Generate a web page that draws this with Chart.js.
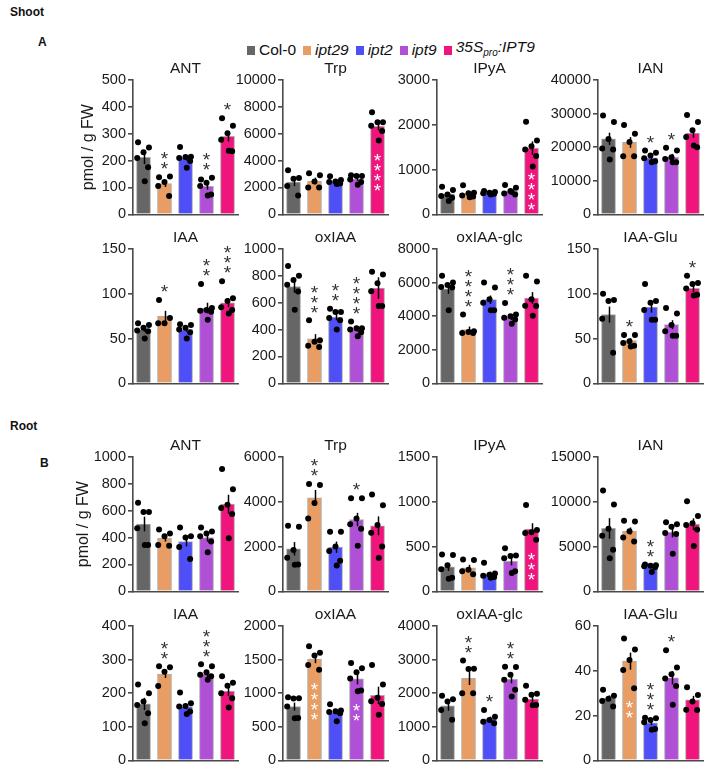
<!DOCTYPE html>
<html>
<head>
<meta charset="utf-8">
<script src="https://cdn.jsdelivr.net/npm/chart.js@4.4.0/dist/chart.umd.min.js"></script>
<style>
  body { margin: 0; width: 708px; height: 768px; background: #fff; position: relative; overflow: hidden;
         font-family: "Liberation Sans", Arial, sans-serif; color: #111; }
  canvas { position: absolute; }
  .lbl { position: absolute; font-weight: bold; font-size: 12px; line-height: 14px; }
  #legend { position: absolute; left: 247px; top: 38px; display: flex; align-items: center;
            font-size: 15.5px; line-height: 18px; white-space: nowrap; }
  #legend .sw { display: inline-block; width: 8px; height: 9px; margin-right: 4px; }
  #legend .it { margin-right: 7px; }
  #legend i sub { font-size: 10px; }
</style>
</head>
<body>
<div class="lbl" style="left:10px;top:5px">Shoot</div>
<div class="lbl" style="left:38px;top:35px">A</div>
<div class="lbl" style="left:10px;top:419px">Root</div>
<div class="lbl" style="left:40px;top:456px">B</div>
<div id="legend">
  <span class="sw" style="background:#666666"></span><span class="it">Col-0</span>
  <span class="sw" style="background:#E89D64"></span><span class="it"><i>ipt29</i></span>
  <span class="sw" style="background:#4F4FF7"></span><span class="it"><i>ipt2</i></span>
  <span class="sw" style="background:#B050D6"></span><span class="it"><i>ipt9</i></span>
  <span class="sw" style="background:#F0157C"></span><span class="it"><i>35S<sub>pro</sub>:IPT9</i></span>
</div>

<script>
const genotypes = ["Col-0", "ipt29", "ipt2", "ipt9", "35Spro:IPT9"];
const barColors = ["#666666", "#E89D64", "#4F4FF7", "#B050D6", "#F0157C"];

// stars: >0 dark asterisks above the bar, <0 white asterisks inside the bar

// ---- Shoot ----
const shootAntMean = [212, 114, 210, 104, 290];
const shootAntSem = [25, 12, 10, 12, 19];
const shootAntDots = [[268, 249, 231, 210, 175, 123], [138, 141, 120, 105, 68], [251, 214, 213, 210, 198, 173], [130, 136, 117, 105, 74, 70], [358, 330, 302, 278, 235, 237]];
const shootAntStars = [0, 2, 0, 2, 1];

const shootTrpMean = [2400, 2480, 2460, 2620, 6550];
const shootTrpSem = [300, 250, 100, 120, 300];
const shootTrpDots = [[3280, 2700, 2650, 2100, 1400], [3050, 2900, 2450, 2000, 2000], [2830, 2550, 2450, 2400, 2300, 2250], [2900, 2850, 2850, 2600, 2400, 2200], [7600, 6850, 6850, 6600, 6200, 5500]];
const shootTrpStars = [0, 0, 0, 0, -4];

const shootIpyaMean = [455, 462, 478, 520, 1480];
const shootIpyaSem = [40, 40, 15, 30, 150];
const shootIpyaDots = [[615, 541, 444, 407, 370, 296], [650, 480, 470, 420, 400, 380], [520, 500, 480, 470, 460, 440], [652, 593, 519, 467, 444, 496], [2070, 1650, 1520, 1450, 1300, 1070]];
const shootIpyaStars = [0, 0, 0, 0, -4];

const shootIanMean = [22500, 21400, 16800, 17000, 24200];
const shootIanSem = [1800, 1600, 600, 1000, 1400];
const shootIanDots = [[29400, 27500, 22400, 19600, 19300, 16300], [26600, 24000, 21500, 17300, 17300], [19000, 18300, 17500, 16700, 15800, 15500], [19800, 19000, 17000, 16500, 15500, 15500], [29600, 27500, 25000, 23000, 20000, 20500]];
const shootIanStars = [0, 0, 1, 1, 0];

const shootIaaMean = [60, 75, 60, 84, 90];
const shootIaaSem = [2.5, 6, 2.5, 6, 5];
const shootIaaDots = [[67, 65, 62, 59, 58, 50], [93, 73, 67, 67], [66, 65, 62, 60, 57, 50], [111, 84, 82, 81, 80, 71], [114, 95, 92, 85, 82, 78]];
const shootIaaStars = [0, 1, 0, 2, 3];

const shootOxiaaMean = [720, 331, 494, 400, 709];
const shootOxiaaSem = [45, 35, 25, 15, 80];
const shootOxiaaDots = [[874, 800, 770, 733, 684, 548], [469, 320, 310, 280, 270], [556, 531, 531, 486, 470, 400], [460, 410, 410, 400, 380, 350], [830, 810, 745, 685, 575, 575]];
const shootOxiaaStars = [0, 3, 2, 4, 0];

const shootOxglcMean = [5630, 3200, 4980, 3950, 5080];
const shootOxglcSem = [300, 180, 250, 180, 350];
const shootOxglcDots = [[6400, 6000, 5850, 5730, 5700, 4350], [4100, 3100, 3050, 3000, 3000], [6000, 5700, 5000, 4800, 4350, 4350], [4780, 4100, 4000, 3900, 3800, 3550], [6400, 6070, 5000, 4620, 4600, 4030]];
const shootOxglcStars = [0, 4, 0, 3, 0];

const shootGluMean = [76.7, 47.8, 85, 65.5, 106];
const shootGluSem = [9, 2.5, 6, 5, 4];
const shootGluDots = [[100, 93, 92, 72, 34], [54, 54, 47, 45, 42, 41], [111, 92, 90, 82, 71, 71], [84, 78, 65, 58, 53, 53], [120, 112, 111, 106, 99, 98]];
const shootGluStars = [0, 1, 0, 0, 1];

// ---- Root ----
const rootAntMean = [501, 395, 370, 400, 649];
const rootAntSem = [55, 25, 35, 30, 70];
const rootAntDots = [[660, 590, 590, 470, 345, 345], [460, 430, 410, 345, 340], [475, 410, 400, 330, 240], [475, 445, 430, 410, 370, 290], [910, 760, 645, 620, 575, 395]];
const rootAntStars = [0, 0, 0, 0, 0];

const rootTrpMean = [1900, 4176, 1970, 3206, 2926];
const rootTrpSem = [300, 350, 250, 300, 420];
const rootTrpDots = [[2930, 2880, 1850, 1500, 1200, 1190], [4790, 4750, 3940, 3250], [2660, 2660, 2000, 1800, 1370, 1150], [4160, 4160, 3250, 3000, 2800, 2030], [4320, 3840, 2960, 2620, 2000, 1490]];
const rootTrpStars = [0, 2, 0, 1, 0];

const rootIpyaMean = [272, 261, 195, 335, 695];
const rootIpyaSem = [45, 35, 25, 45, 65];
const rootIpyaDots = [[410, 405, 290, 245, 150, 140], [355, 350, 240, 225, 190], [320, 200, 185, 175, 160, 150], [480, 400, 395, 370, 225, 205], [965, 685, 660, 650, 575]];
const rootIpyaStars = [0, 0, 0, 0, -3];

const rootIanMean = [7020, 6730, 2870, 6580, 7500];
const rootIanSem = [1150, 400, 100, 550, 650];
const rootIanDots = [[11250, 9700, 7000, 6200, 4650, 3700], [7870, 7800, 6700, 6000, 5550], [3000, 2900, 2850, 2800, 2700, 2150], [7700, 7500, 7200, 6500, 6400, 4200], [10050, 8400, 7600, 7400, 6900, 5050]];
const rootIanStars = [0, 0, 2, 0, 0];

const rootIaaMean = [168, 257, 160, 257, 206];
const rootIaaSem = [18, 12, 8, 10, 15];
const rootIaaDots = [[226, 200, 175, 165, 140, 110], [280, 277, 264, 221], [202, 170, 162, 160, 145, 138], [286, 280, 262, 255, 250, 240], [250, 231, 222, 200, 185, 157]];
const rootIaaStars = [0, 2, 0, 3, 0];

const rootOxiaaMean = [800, 1506, 711, 1215, 967];
const rootOxiaaSem = [60, 60, 25, 85, 130];
const rootOxiaaDots = [[940, 925, 920, 800, 630, 625], [1700, 1600, 1560, 1420, 1350], [835, 740, 730, 720, 700, 580], [1450, 1370, 1310, 1220, 1040, 1030], [1420, 1130, 930, 880, 840, 680]];
const rootOxiaaStars = [0, -4, 0, -2, 0];

const rootOxglcMean = [1626, 2443, 1232, 2414, 1823];
const rootOxglcSem = [150, 200, 70, 120, 90];
const rootOxglcDots = [[1920, 1820, 1750, 1500, 1210], [2970, 2730, 2720, 2000, 2000], [1500, 1300, 1200, 1150, 1100], [2790, 2780, 2550, 2400, 2100, 1900], [2220, 1980, 1950, 1800, 1650, 1640]];
const rootOxglcStars = [0, 2, 1, 2, 0];

const rootGluMean = [27.8, 44.3, 16.7, 36.9, 27];
const rootGluSem = [1.2, 3.8, 1, 3, 1.8];
const rootGluDots = [[31.5, 28.8, 27.5, 26.5, 24], [54.4, 49.5, 44.8, 40.3, 32.2], [19, 18.8, 18, 17, 14, 13.7], [49.2, 41.5, 38.4, 36.6, 33.2, 24.8], [32.6, 29.2, 26.3, 22.6, 22.5]];
const rootGluStars = [0, -2, 3, 1, 0];

const panels = [
  { title: "ANT", max: 500, step: 100, mean: shootAntMean, sem: shootAntSem, dots: shootAntDots, stars: shootAntStars },
  { title: "Trp", max: 10000, step: 2000, mean: shootTrpMean, sem: shootTrpSem, dots: shootTrpDots, stars: shootTrpStars },
  { title: "IPyA", max: 3000, step: 1000, mean: shootIpyaMean, sem: shootIpyaSem, dots: shootIpyaDots, stars: shootIpyaStars },
  { title: "IAN", max: 40000, step: 10000, mean: shootIanMean, sem: shootIanSem, dots: shootIanDots, stars: shootIanStars },
  { title: "IAA", max: 150, step: 50, mean: shootIaaMean, sem: shootIaaSem, dots: shootIaaDots, stars: shootIaaStars },
  { title: "oxIAA", max: 1000, step: 200, mean: shootOxiaaMean, sem: shootOxiaaSem, dots: shootOxiaaDots, stars: shootOxiaaStars },
  { title: "oxIAA-glc", max: 8000, step: 2000, mean: shootOxglcMean, sem: shootOxglcSem, dots: shootOxglcDots, stars: shootOxglcStars },
  { title: "IAA-Glu", max: 150, step: 50, mean: shootGluMean, sem: shootGluSem, dots: shootGluDots, stars: shootGluStars },
  { title: "ANT", max: 1000, step: 200, mean: rootAntMean, sem: rootAntSem, dots: rootAntDots, stars: rootAntStars },
  { title: "Trp", max: 6000, step: 2000, mean: rootTrpMean, sem: rootTrpSem, dots: rootTrpDots, stars: rootTrpStars },
  { title: "IPyA", max: 1500, step: 500, mean: rootIpyaMean, sem: rootIpyaSem, dots: rootIpyaDots, stars: rootIpyaStars },
  { title: "IAN", max: 15000, step: 5000, mean: rootIanMean, sem: rootIanSem, dots: rootIanDots, stars: rootIanStars },
  { title: "IAA", max: 400, step: 100, mean: rootIaaMean, sem: rootIaaSem, dots: rootIaaDots, stars: rootIaaStars },
  { title: "oxIAA", max: 2000, step: 500, mean: rootOxiaaMean, sem: rootOxiaaSem, dots: rootOxiaaDots, stars: rootOxiaaStars },
  { title: "oxIAA-glc", max: 4000, step: 1000, mean: rootOxglcMean, sem: rootOxglcSem, dots: rootOxglcDots, stars: rootOxglcStars },
  { title: "IAA-Glu", max: 60, step: 20, mean: rootGluMean, sem: rootGluSem, dots: rootGluDots, stars: rootGluStars }
];

// layout
const axisX = [133, 283, 437, 598];
const plotTop = [80, 249, 457, 626];
const plotW = 106, plotH = 135, headH = 21, footH = 10;
const jitter = [-0.26, 0.26, 0, -0.3, 0.22, 0.06];
const axisColor = "#4a4a4a";
const font = "'Liberation Sans', Arial, sans-serif";
const starGap = 10;

Chart.defaults.font.family = font;
Chart.defaults.color = "#1a1a1a";

function marks(p) {
  return {
    id: "marks",
    afterDatasetDraw(chart, args) {
      if (args.index !== 0) return;
      const ctx = chart.ctx, xs = chart.scales.x, ys = chart.scales.y;
      ctx.save();
      ctx.strokeStyle = "#000";
      ctx.lineWidth = 1.5;
      p.mean.forEach((m, i) => {
        const x = Math.round(xs.getPixelForValue(i)) + 0.5;
        ctx.beginPath();
        ctx.moveTo(x, ys.getPixelForValue(m - p.sem[i]));
        ctx.lineTo(x, ys.getPixelForValue(m + p.sem[i]));
        ctx.stroke();
      });
      ctx.restore();
    },
    afterDatasetsDraw(chart) {
      const ctx = chart.ctx, xs = chart.scales.x, ys = chart.scales.y;
      ctx.save();
      ctx.font = "19px " + font;
      ctx.textAlign = "center";
      ctx.textBaseline = "middle";
      p.stars.forEach((s, i) => {
        if (!s) return;
        const x = xs.getPixelForValue(i);
        const n = Math.abs(s);
        if (s > 0) {
          const top = Math.min(ys.getPixelForValue(Math.max(...p.dots[i])), ys.getPixelForValue(p.mean[i] + p.sem[i]));
          ctx.fillStyle = "#333";
          for (let k = 0; k < n; k++) ctx.fillText("*", x, top - 11 - k * starGap + 4);
        } else {
          const low = ys.getPixelForValue(Math.min(...p.dots[i]));
          let start = low + 17;
          const limit = ys.getPixelForValue(0) - 8;
          if (start + (n - 1) * starGap > limit) start = limit - (n - 1) * starGap;
          ctx.fillStyle = "#fff";
          for (let k = 0; k < n; k++) ctx.fillText("*", x, start + k * starGap + 4);
        }
      });
      ctx.restore();
    }
  };
}

panels.forEach((p, k) => {
  const row = Math.floor(k / 4), col = k % 4;
  const hasYTitle = col === 0 && (row === 0 || row === 2);
  const yw = hasYTitle ? (row === 0 ? 54 : 59) : 60;
  const canvas = document.createElement("canvas");
  canvas.width = yw + plotW + 3;
  canvas.height = headH + plotH + footH;
  canvas.style.left = (axisX[col] - yw) + "px";
  canvas.style.top = (plotTop[row] - headH) + "px";
  document.body.appendChild(canvas);

  new Chart(canvas, {
    type: "bar",
    data: {
      datasets: [
        {
          type: "bar",
          data: p.mean.map((m, i) => ({ x: i, y: m })),
          backgroundColor: barColors,
          borderColor: "#ababab",
          borderWidth: 1,
          barThickness: 14,
          order: 2
        },
        {
          type: "scatter",
          data: p.dots.flatMap((arr, i) => arr.map((v, j) => ({ x: i + jitter[j % jitter.length], y: v }))),
          pointRadius: 3,
          pointBackgroundColor: "#000",
          pointBorderWidth: 0,
          order: 1
        }
      ]
    },
    options: {
      responsive: false,
      animation: false,
      layout: { padding: { left: 0, right: 3, top: 0, bottom: footH } },
      plugins: {
        legend: { display: false },
        tooltip: { enabled: false },
        title: {
          display: true, text: p.title, fullSize: false,
          font: { size: 15.5, weight: "normal", lineHeight: 1.2 },
          color: "#1a1a1a",
          padding: { top: 0, bottom: 2.4 }
        }
      },
      scales: {
        x: {
          type: "linear", min: -0.5, max: 4.5, offset: false,
          ticks: { display: false },
          grid: { display: false },
          border: { display: true, color: axisColor, width: 1.6 },
          afterFit(scale) { scale.height = 0; }
        },
        y: {
          min: 0, max: p.max,
          ticks: {
            stepSize: p.step, padding: 2, color: "#1a1a1a",
            font: { size: 14.5 },
            callback: (v) => String(v)
          },
          grid: { drawOnChartArea: false, drawTicks: true, tickLength: 5, color: axisColor, lineWidth: 1.6 },
          border: { display: true, color: axisColor, width: 1.6 },
          title: {
            display: hasYTitle, text: "pmol / g FW", color: "#1a1a1a",
            font: { size: 16, lineHeight: 1.2 }, padding: { top: 0, bottom: 0 }
          },
          afterFit(scale) { scale.width = yw; }
        }
      }
    },
    plugins: [marks(p)]
  });
});
</script>
</body>
</html>
